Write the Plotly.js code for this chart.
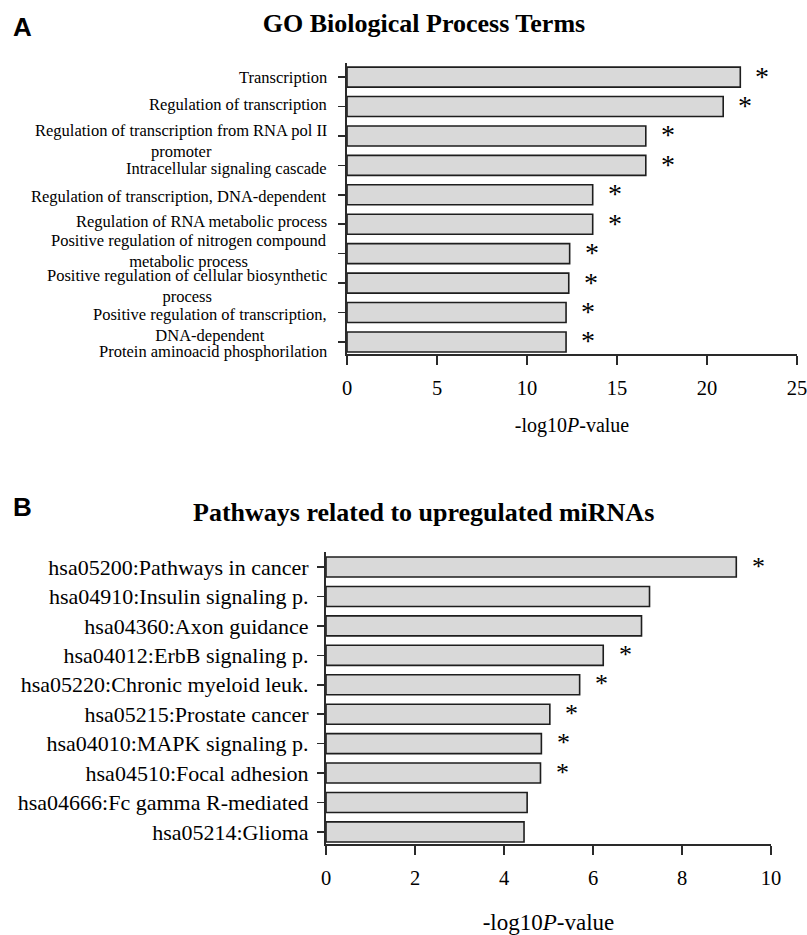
<!DOCTYPE html>
<html>
<head>
<meta charset="utf-8">
<script src="https://cdn.plot.ly/plotly-3.0.1.min.js"></script>
<style>html,body{margin:0;padding:0;background:#fff;}#chart{width:807px;height:935px;}</style>
</head>
<body>
<div id="chart"></div>
<script>
// ---------- Panel A data ----------
const titleA = "GO Biological Process Terms";
const categoriesA = [
  "Transcription",
  "Regulation of transcription",
  "Regulation of transcription from RNA pol II<br>promoter",
  "Intracellular signaling cascade",
  "Regulation of transcription, DNA-dependent",
  "Regulation of RNA metabolic process",
  "Positive regulation of nitrogen compound<br>metabolic process",
  "Positive regulation of cellular biosynthetic<br>process",
  "Positive regulation of transcription,<br>DNA-dependent",
  "Protein aminoacid phosphorilation"
];
const valuesA = [21.85, 20.9, 16.6, 16.6, 13.65, 13.65, 12.37, 12.32, 12.17, 12.17];
const significantA = [true, true, true, true, true, true, true, true, true, true];
const ticksA = [0, 5, 10, 15, 20, 25];

// ---------- Panel B data ----------
const titleB = "Pathways related to upregulated miRNAs";
const categoriesB = [
  "hsa05200:Pathways in cancer",
  "hsa04910:Insulin signaling p.",
  "hsa04360:Axon guidance",
  "hsa04012:ErbB signaling p.",
  "hsa05220:Chronic myeloid leuk.",
  "hsa05215:Prostate cancer",
  "hsa04010:MAPK signaling p.",
  "hsa04510:Focal adhesion",
  "hsa04666:Fc gamma R-mediated",
  "hsa05214:Glioma"
];
const valuesB = [9.22, 7.27, 7.09, 6.23, 5.70, 5.03, 4.84, 4.82, 4.52, 4.45];
const significantB = [true, false, false, true, true, true, true, true, false, false];
const ticksB = [0, 2, 4, 6, 8, 10];

const axisTitle = "-log10<i>P</i>-value";

// ---------- styling ----------
const W = 807, H = 935;
const serif = "Liberation Serif, Times New Roman, serif";
const sans = "Liberation Sans, Arial, sans-serif";
const lineCol = "#2a2a2a";
const labelShiftA = [0, -2, 5, 3, 2, -3, -3, 3, 12, 10]; // px, visual offsets of labels in the original

const barStyle = {color: "#d9d9d9", line: {color: "#1e1e1e", width: 1.6}};

const traceA = {
  type: "bar", orientation: "h",
  x: valuesA, y: categoriesA,
  xaxis: "x", yaxis: "y",
  width: 0.68, marker: barStyle, hoverinfo: "x+y"
};
const traceB = {
  type: "bar", orientation: "h",
  x: valuesB, y: categoriesB,
  xaxis: "x2", yaxis: "y2",
  width: 0.68, marker: barStyle, hoverinfo: "x+y"
};

const annotations = [];
// Panel letters
annotations.push({xref: "paper", yref: "paper", x: 22 / W, y: 1 - 27 / H, xanchor: "center", yanchor: "middle",
  text: "<b>A</b>", showarrow: false, font: {family: sans, size: 26, color: "#000"}});
annotations.push({xref: "paper", yref: "paper", x: 22 / W, y: 1 - 507 / H, xanchor: "center", yanchor: "middle",
  text: "<b>B</b>", showarrow: false, font: {family: sans, size: 26, color: "#000"}});
// Panel B title
annotations.push({xref: "paper", yref: "paper", x: 424 / W, y: 1 - 512 / H, xanchor: "center", yanchor: "middle",
  text: "<b>" + titleB + "</b>", showarrow: false, font: {family: serif, size: 26, color: "#000"}});
// Panel A category labels (centered multi-line)
categoriesA.forEach((c, i) => {
  annotations.push({xref: "paper", yref: "y", x: 329 / W, y: c, xanchor: "right", yanchor: "middle",
    yshift: -labelShiftA[i], text: c, align: "center", showarrow: false,
    font: {family: serif, size: 16.5, color: "#000"}});
});
// Asterisks
categoriesA.forEach((c, i) => {
  if (significantA[i]) annotations.push({xref: "x", yref: "y", x: valuesA[i], y: c, xanchor: "center", yanchor: "middle",
    xshift: 22, yshift: 1, text: "*", showarrow: false, font: {family: serif, size: 28, color: "#000"}});
});
categoriesB.forEach((c, i) => {
  if (significantB[i]) annotations.push({xref: "x2", yref: "y2", x: valuesB[i], y: c, xanchor: "center", yanchor: "middle",
    xshift: 22, yshift: 1, text: "*", showarrow: false, font: {family: serif, size: 26, color: "#000"}});
});

const xCommon = {
  showline: true, linecolor: lineCol, linewidth: 2, mirror: false,
  ticks: "outside", ticklen: 9, tickwidth: 1.6, tickcolor: lineCol,
  showgrid: false, zeroline: false, fixedrange: true,
  ticklabeloverflow: "allow",
  tickfont: {family: serif, size: 20.5, color: "#000"}
};
const yCommon = {
  type: "category", showline: true, linecolor: lineCol, linewidth: 2,
  ticks: "outside", ticklen: 7, tickwidth: 1.6, tickcolor: lineCol,
  showgrid: false, zeroline: false, fixedrange: true
};

const layout = {
  width: W, height: H,
  margin: {l: 0, r: 0, t: 0, b: 0},
  paper_bgcolor: "#fff", plot_bgcolor: "#fff",
  showlegend: false,
  title: {text: "<b>" + titleA + "</b>", x: 424 / W, xanchor: "center", xref: "paper",
    y: 1 - 23 / H, yref: "container", yanchor: "middle",
    font: {family: serif, size: 26, color: "#000"}},
  xaxis: Object.assign({}, xCommon, {
    domain: [347 / W, 797 / W], anchor: "y", range: [0, 25], tickvals: ticksA,
    ticklabelstandoff: 5,
    title: {text: axisTitle, standoff: 20, font: {family: serif, size: 20, color: "#000"}}
  }),
  yaxis: Object.assign({}, yCommon, {
    domain: [1 - 354 / H, 1 - 63 / H], anchor: "x", range: [9.41, -0.48],
    showticklabels: false
  }),
  xaxis2: Object.assign({}, xCommon, {
    domain: [326 / W, 771 / W], anchor: "y2", range: [0, 10], tickvals: ticksB,
    ticklabelstandoff: 5,
    title: {text: axisTitle, standoff: 28, font: {family: serif, size: 23, color: "#000"}}
  }),
  yaxis2: Object.assign({}, yCommon, {
    domain: [1 - 844 / H, 1 - 552 / H], anchor: "x2", range: [9.41, -0.51],
    showticklabels: true, ticklabelstandoff: 4,
    tickfont: {family: serif, size: 22, color: "#000"}
  }),
  bargap: 0.32,
  annotations: annotations
};

Plotly.newPlot("chart", [traceA, traceB], layout, {displayModeBar: false, staticPlot: true});
</script>
</body>
</html>
